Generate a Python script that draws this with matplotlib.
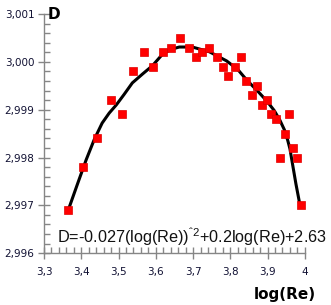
import numpy as np
import matplotlib
matplotlib.use("Agg")
import matplotlib.pyplot as plt
from matplotlib.ticker import MultipleLocator, FuncFormatter

plt.rcParams["mathtext.fontset"] = "custom"
plt.rcParams["mathtext.rm"] = "Liberation Sans"
plt.rcParams["mathtext.it"] = "Liberation Sans"

# measured points
log_re = [3.365, 3.405, 3.443, 3.480, 3.510, 3.540, 3.569, 3.593, 3.620, 3.642,
          3.666, 3.688, 3.707, 3.725, 3.744, 3.763, 3.779, 3.795, 3.812, 3.828,
          3.841, 3.857, 3.871, 3.884, 3.898, 3.909, 3.922, 3.946, 3.957, 3.933,
          3.968, 3.979, 3.989]
d_vals = [2.9969, 2.9978, 2.9984, 2.9992, 2.9989, 2.9998, 3.0002, 2.9999, 3.0002, 3.0003,
          3.0005, 3.0003, 3.0001, 3.0002, 3.0003, 3.0001, 2.9999, 2.9997, 2.9999, 3.0001,
          2.9996, 2.9993, 2.9995, 2.9991, 2.9992, 2.9989, 2.9988, 2.9985, 2.9989, 2.9980,
          2.9982, 2.9980, 2.9970]

# trend line
fit_x = [3.365, 3.390, 3.413, 3.435, 3.456, 3.475, 3.494, 3.515, 3.537, 3.565, 3.591,
         3.618, 3.640, 3.663, 3.698, 3.744, 3.790, 3.820, 3.844, 3.872, 3.898, 3.918,
         3.933, 3.945, 3.954, 3.960, 3.965, 3.976, 3.987]
fit_y = [2.9969, 2.99745, 2.99795, 2.99838, 2.99872, 2.99893, 2.99910, 2.99932, 2.99956, 2.99975, 2.99992,
         3.00016, 3.00026, 3.00031, 3.00031, 3.00021, 3.00002, 2.99984, 2.99962, 2.99940, 2.99918, 2.99898,
         2.99878, 2.99858, 2.99836, 2.99818, 2.99795, 2.99745, 2.99700]

fig = plt.figure(figsize=(3.31, 3.05), dpi=100)
ax = fig.add_axes([0.133, 0.170, 0.788, 0.784])

ax.plot(fit_x, fit_y, color="black", lw=2.2, zorder=2)
ax.plot(log_re, d_vals, "s", color="#ff0000", mec="#e00000", mew=0.5, ms=5.8, zorder=3)

ax.set_xlim(3.3, 4.0)
ax.set_ylim(2.996, 3.001)
ax.xaxis.set_major_locator(MultipleLocator(0.1))
ax.xaxis.set_minor_locator(MultipleLocator(0.02))
ax.yaxis.set_major_locator(MultipleLocator(0.001))
ax.yaxis.set_minor_locator(MultipleLocator(0.0002))


def comma_fmt(dec):
    def f(v, pos):
        s = f"{v:.{dec}f}".replace(".", ",")
        if dec == 1 and abs(v - 4.0) < 1e-9:
            s = "4"
        return s
    return FuncFormatter(f)


ax.xaxis.set_major_formatter(comma_fmt(1))
ax.yaxis.set_major_formatter(comma_fmt(3))

for side in ["top", "right"]:
    ax.spines[side].set_visible(False)
for side in ["left", "bottom"]:
    ax.spines[side].set_color("#868686")
    ax.spines[side].set_linewidth(1.0)

ax.tick_params(which="major", direction="inout", length=8, width=1, color="#868686",
               labelsize=7.5, labelcolor="#111133", pad=3)
ax.tick_params(which="minor", direction="in", length=4, width=1, color="#868686")
ax.tick_params(axis="x", which="major", pad=6)

ax.text(0.015, 1.0, "D", transform=ax.transAxes, fontsize=11, fontweight="bold",
        ha="left", va="center")
fig.text(0.86, 0.035, "log(Re)", fontsize=11, fontweight="bold", ha="center", va="center")

ax.text(3.335, 2.99622, "D=-0.027(log(Re))$^{\u02c62}$+0.2log(Re)+2.63",
        family="Liberation Sans", fontsize=11.7, ha="left", va="baseline", color="#111111")

fig.savefig("out.png", dpi=100)
